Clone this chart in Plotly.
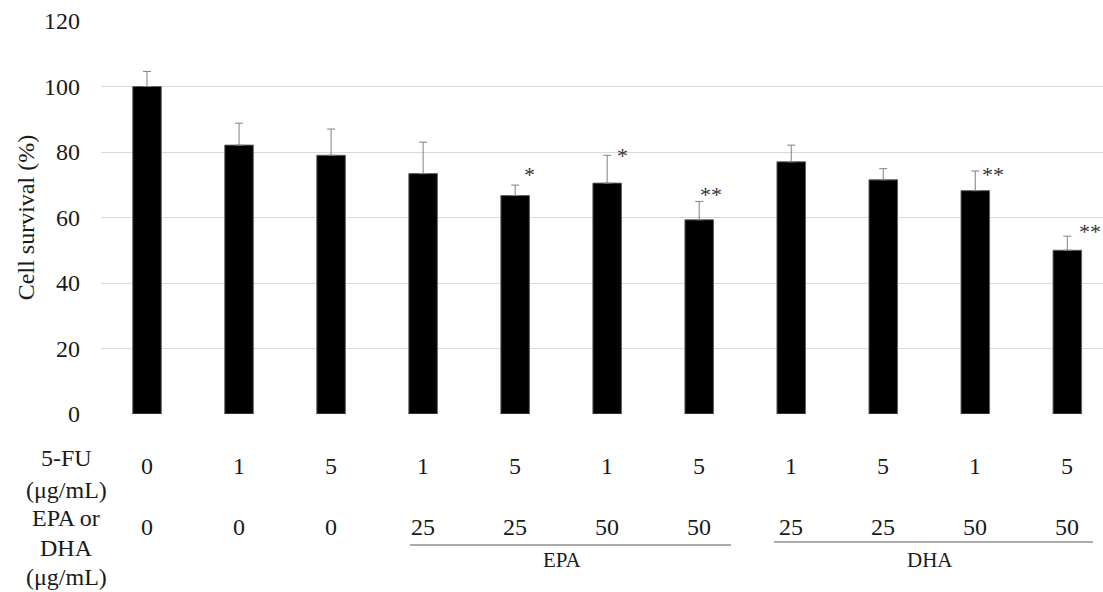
import plotly.graph_objects as go

# ---- data ----
fu_dose = ["0", "1", "5", "1", "5", "1", "5", "1", "5", "1", "5"]
pufa_dose = ["0", "0", "0", "25", "25", "50", "50", "25", "25", "50", "50"]
pufa_type = ["", "", "", "EPA", "EPA", "EPA", "EPA", "DHA", "DHA", "DHA", "DHA"]
survival = [100.0, 82.1, 79.0, 73.4, 66.7, 70.5, 59.3, 77.0, 71.5, 68.2, 50.0]
sem = [4.6, 6.7, 8.0, 9.6, 3.2, 8.5, 5.6, 5.1, 3.4, 6.0, 4.3]
signif = ["", "", "", "", "*", "*", "**", "", "", "**", "**"]
y_ticks = [0, 20, 40, 60, 80, 100, 120]

# ---- layout constants (pixels) ----
W, H = 1103, 592
ML, MR, MT, MB = 101, 0, 21, 178
PLOT_W = W - ML - MR
PLOT_H = H - MT - MB
BOTTOM = H - MB

def px_x(p):
    return (p - ML) / PLOT_W

def px_y(p):
    return (BOTTOM - p) / PLOT_H

FONT = "Times New Roman, Liberation Serif, DejaVu Serif, serif"
TXT = "#1a1a1a"

idx = list(range(len(survival)))

fig = go.Figure()
fig.add_trace(go.Bar(
    x=idx, y=survival, width=0.31,
    marker=dict(color="#000000", line=dict(color="#606060", width=1)),
    error_y=dict(type="data", symmetric=False, array=sem, arrayminus=[0] * len(sem),
                 color="#808080", thickness=1, width=4),
    showlegend=False, hoverinfo="skip",
))

annotations = []

# significance marks: pixel shifts from the error-bar top
sig_shift = {4: (14.5, 12.6), 5: (15.3, 1.7), 6: (11.4, 9.0), 9: (17.3, -1.0), 10: (22.2, 6.3)}
for i, s in enumerate(signif):
    if not s:
        continue
    dx, dy = sig_shift[i]
    annotations.append(dict(
        x=i, y=survival[i] + sem[i], xref="x", yref="y", text=s, showarrow=False,
        xanchor="center", yanchor="middle", xshift=dx, yshift=dy - 2,
        font=dict(family=FONT, size=22, color="#333333"),
    ))

# table rows under the axis
row1_y, row2_y = 466, 527
for i in idx:
    annotations.append(dict(x=i, y=px_y(row1_y), xref="x", yref="paper", text=fu_dose[i],
                            showarrow=False, xanchor="center", yanchor="middle",
                            font=dict(family=FONT, size=24, color=TXT)))
    annotations.append(dict(x=i, y=px_y(row2_y), xref="x", yref="paper", text=pufa_dose[i],
                            showarrow=False, xanchor="center", yanchor="middle",
                            font=dict(family=FONT, size=24, color=TXT)))

# row labels
row_labels = [("5-FU", 458), ("(\u03bcg/mL)", 490), ("EPA or", 518), ("DHA", 548), ("(\u03bcg/mL)", 577)]
for t, yy in row_labels:
    annotations.append(dict(x=px_x(66), y=px_y(yy), xref="paper", yref="paper", text=t,
                            showarrow=False, xanchor="center", yanchor="middle",
                            font=dict(family=FONT, size=24, color=TXT)))

# group labels and underline
shapes = []
groups = [("EPA", 410, 731, 545, 562), ("DHA", 774, 1093, 542, 930)]
for name, x0, x1, yl, xc in groups:
    shapes.append(dict(type="line", xref="paper", yref="paper",
                       x0=px_x(x0), x1=px_x(x1), y0=px_y(yl), y1=px_y(yl),
                       line=dict(color="#595959", width=1.2)))
    annotations.append(dict(x=px_x(xc), y=px_y(560), xref="paper", yref="paper", text=name,
                            showarrow=False, xanchor="center", yanchor="middle",
                            font=dict(family=FONT, size=21, color=TXT)))

fig.update_layout(
    width=W, height=H,
    margin=dict(l=ML, r=MR, t=MT, b=MB, pad=0),
    paper_bgcolor="white", plot_bgcolor="white",
    font=dict(family=FONT, size=24, color=TXT),
    xaxis=dict(range=[-0.5, -0.5 + PLOT_W / 92.03], showticklabels=False, showgrid=False,
               zeroline=False, showline=False, ticks=""),
    yaxis=dict(range=[0, 120], tickvals=y_ticks, showgrid=True, gridcolor="#d9d9d9", gridwidth=1,
               zeroline=False, showline=False, ticks="", ticklabelstandoff=20,
               tickfont=dict(family=FONT, size=24, color=TXT),
               title=dict(text="Cell survival (%)", standoff=2,
                          font=dict(family=FONT, size=24, color=TXT))),
    annotations=annotations, shapes=shapes,
    bargap=0.69,
)

fig.write_html("out.html")
